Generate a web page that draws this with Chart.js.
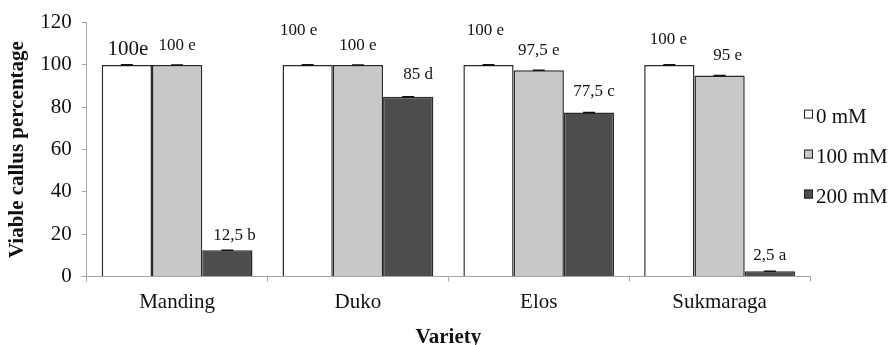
<!DOCTYPE html>
<html>
<head>
<meta charset="utf-8">
<script src="https://cdn.jsdelivr.net/npm/chart.js@4.4.1/dist/chart.umd.min.js"></script>
<style>
	html, body { margin: 0; padding: 0; background: #fff; }
	#wrap { width: 895px; height: 345px; }
</style>
</head>
<body>
<div id="wrap"><canvas id="chart"></canvas></div>
<script>
const varieties = ["Manding", "Duko", "Elos", "Sukmaraga"];
const seriesNames = ["0 mM", "100 mM", "200 mM"];

const viable0 = [100, 100, 100, 100];
const viable100 = [100, 100, 97.5, 95];
const viable200 = [12.5, 85, 77.5, 2.5];

// standard errors (all zero in the figure, only the caps show)
const err0 = [0, 0, 0, 0];
const err100 = [0, 0, 0, 0];
const err200 = [0, 0, 0, 0];

// letters of the significance test, as printed over the bars
const notes0 = ["100e", "100 e", "100 e", "100 e"];
const notes100 = ["100 e", "100 e", "97,5 e", "95 e"];
const notes200 = ["12,5 b", "85 d", "77,5 c", "2,5 a"];

const yTicks = [0, 20, 40, 60, 80, 100, 120];

const serif = "'Liberation Serif', 'Times New Roman', serif";
const axisGray = "#a6a6a6";

// label placement tweaks: [dx, lift, font size] per bar
const noteStyle = [
	[[1, 15, 21], [-9, 34, 17], [-3, 34, 17], [-1, 25, 17]],
	[[0, 19, 17], [0, 19, 17], [0, 20, 17], [8, 20, 17]],
	[[7, 15, 17], [10, 22, 17], [5, 21, 17], [0, 16, 17]]
];

const barNotes = {
	id: "barNotes",
	afterDatasetsDraw(chart) {
		const ctx = chart.ctx;
		const notes = [notes0, notes100, notes200];
		const errs = [err0, err100, err200];
		const y = chart.scales.y;
		ctx.save();
		chart.data.datasets.forEach((ds, di) => {
			const meta = chart.getDatasetMeta(di);
			meta.data.forEach((bar, i) => {
				// error bar with cap
				const v = ds.data[i];
				const e = errs[di][i];
				ctx.strokeStyle = "#111";
				ctx.lineWidth = di === 0 ? 2 : 1.5;
				ctx.beginPath();
				ctx.moveTo(bar.x, y.getPixelForValue(v + e));
				ctx.lineTo(bar.x, y.getPixelForValue(v - e));
				ctx.moveTo(bar.x - 6, y.getPixelForValue(v + e));
				ctx.lineTo(bar.x + 6, y.getPixelForValue(v + e));
				ctx.moveTo(bar.x - 6, y.getPixelForValue(v - e));
				ctx.lineTo(bar.x + 6, y.getPixelForValue(v - e));
				ctx.stroke();

				const [dx, lift, size] = noteStyle[di][i];
				ctx.fillStyle = "#111";
				ctx.font = size + "px " + serif;
				ctx.textAlign = "center";
				ctx.textBaseline = "middle";
				ctx.fillText(notes[di][i], bar.x + dx, bar.y - lift);
			});
		});
		ctx.restore();
	}
};

const sideLegend = {
	id: "sideLegend",
	afterDraw(chart) {
		const ctx = chart.ctx;
		const x = chart.chartArea.right - 6;
		const mid = (chart.chartArea.top + chart.chartArea.bottom) / 2;
		ctx.save();
		chart.data.datasets.forEach((ds, i) => {
			const cy = mid - 32 + i * 40;
			ctx.fillStyle = ds.backgroundColor;
			ctx.strokeStyle = "#222";
			ctx.lineWidth = 1;
			ctx.fillRect(x, cy - 8, 9, 9);
			ctx.strokeRect(x + 0.5, cy - 7.5, 8, 8);
			ctx.fillStyle = "#111";
			ctx.font = "21px " + serif;
			ctx.textAlign = "left";
			ctx.textBaseline = "middle";
			ctx.fillText(ds.label, x + 12, cy);
		});
		ctx.restore();
	}
};

const makeSet = (label, data, color) => ({
	label: label,
	data: data,
	backgroundColor: color,
	borderColor: "#2a2a2a",
	borderWidth: 1.5,
	categoryPercentage: 0.834,
	barPercentage: 1
});

new Chart(document.getElementById("chart").getContext("2d"), {
	type: "bar",
	data: {
		labels: varieties,
		datasets: [
			makeSet(seriesNames[0], viable0, "#ffffff"),
			makeSet(seriesNames[1], viable100, "#c8c8c8"),
			makeSet(seriesNames[2], viable200, "#4d4d4d")
		]
	},
	options: {
		responsive: true,
		maintainAspectRatio: false,
		animation: false,
		layout: {
			padding: { left: 5, right: 85, top: 10, bottom: -7 }
		},
		plugins: {
			legend: { display: false },
			tooltip: { enabled: false }
		},
		scales: {
			x: {
				grid: {
					drawOnChartArea: false,
					tickLength: 5,
					color: axisGray
				},
				border: { color: axisGray },
				ticks: {
					color: "#111",
					padding: 8,
					font: { family: serif, size: 21 }
				},
				title: {
					display: true,
					text: "Variety",
					color: "#111",
					padding: { top: 2, bottom: 2 },
					font: { family: serif, size: 21, weight: "bold" }
				}
			},
			y: {
				min: 0,
				max: 120,
				afterBuildTicks: (scale) => {
					scale.ticks = yTicks.map((v) => ({ value: v }));
				},
				grid: {
					drawOnChartArea: false,
					tickLength: 5,
					color: axisGray
				},
				border: { color: axisGray },
				ticks: {
					color: "#111",
					padding: 10,
					font: { family: serif, size: 21 }
				},
				title: {
					display: true,
					text: "Viable callus percentage",
					color: "#111",
					padding: { top: 0, bottom: 0 },
					font: { family: serif, size: 21, weight: "bold" }
				}
			}
		}
	},
	plugins: [barNotes, sideLegend]
});
</script>
</body>
</html>
